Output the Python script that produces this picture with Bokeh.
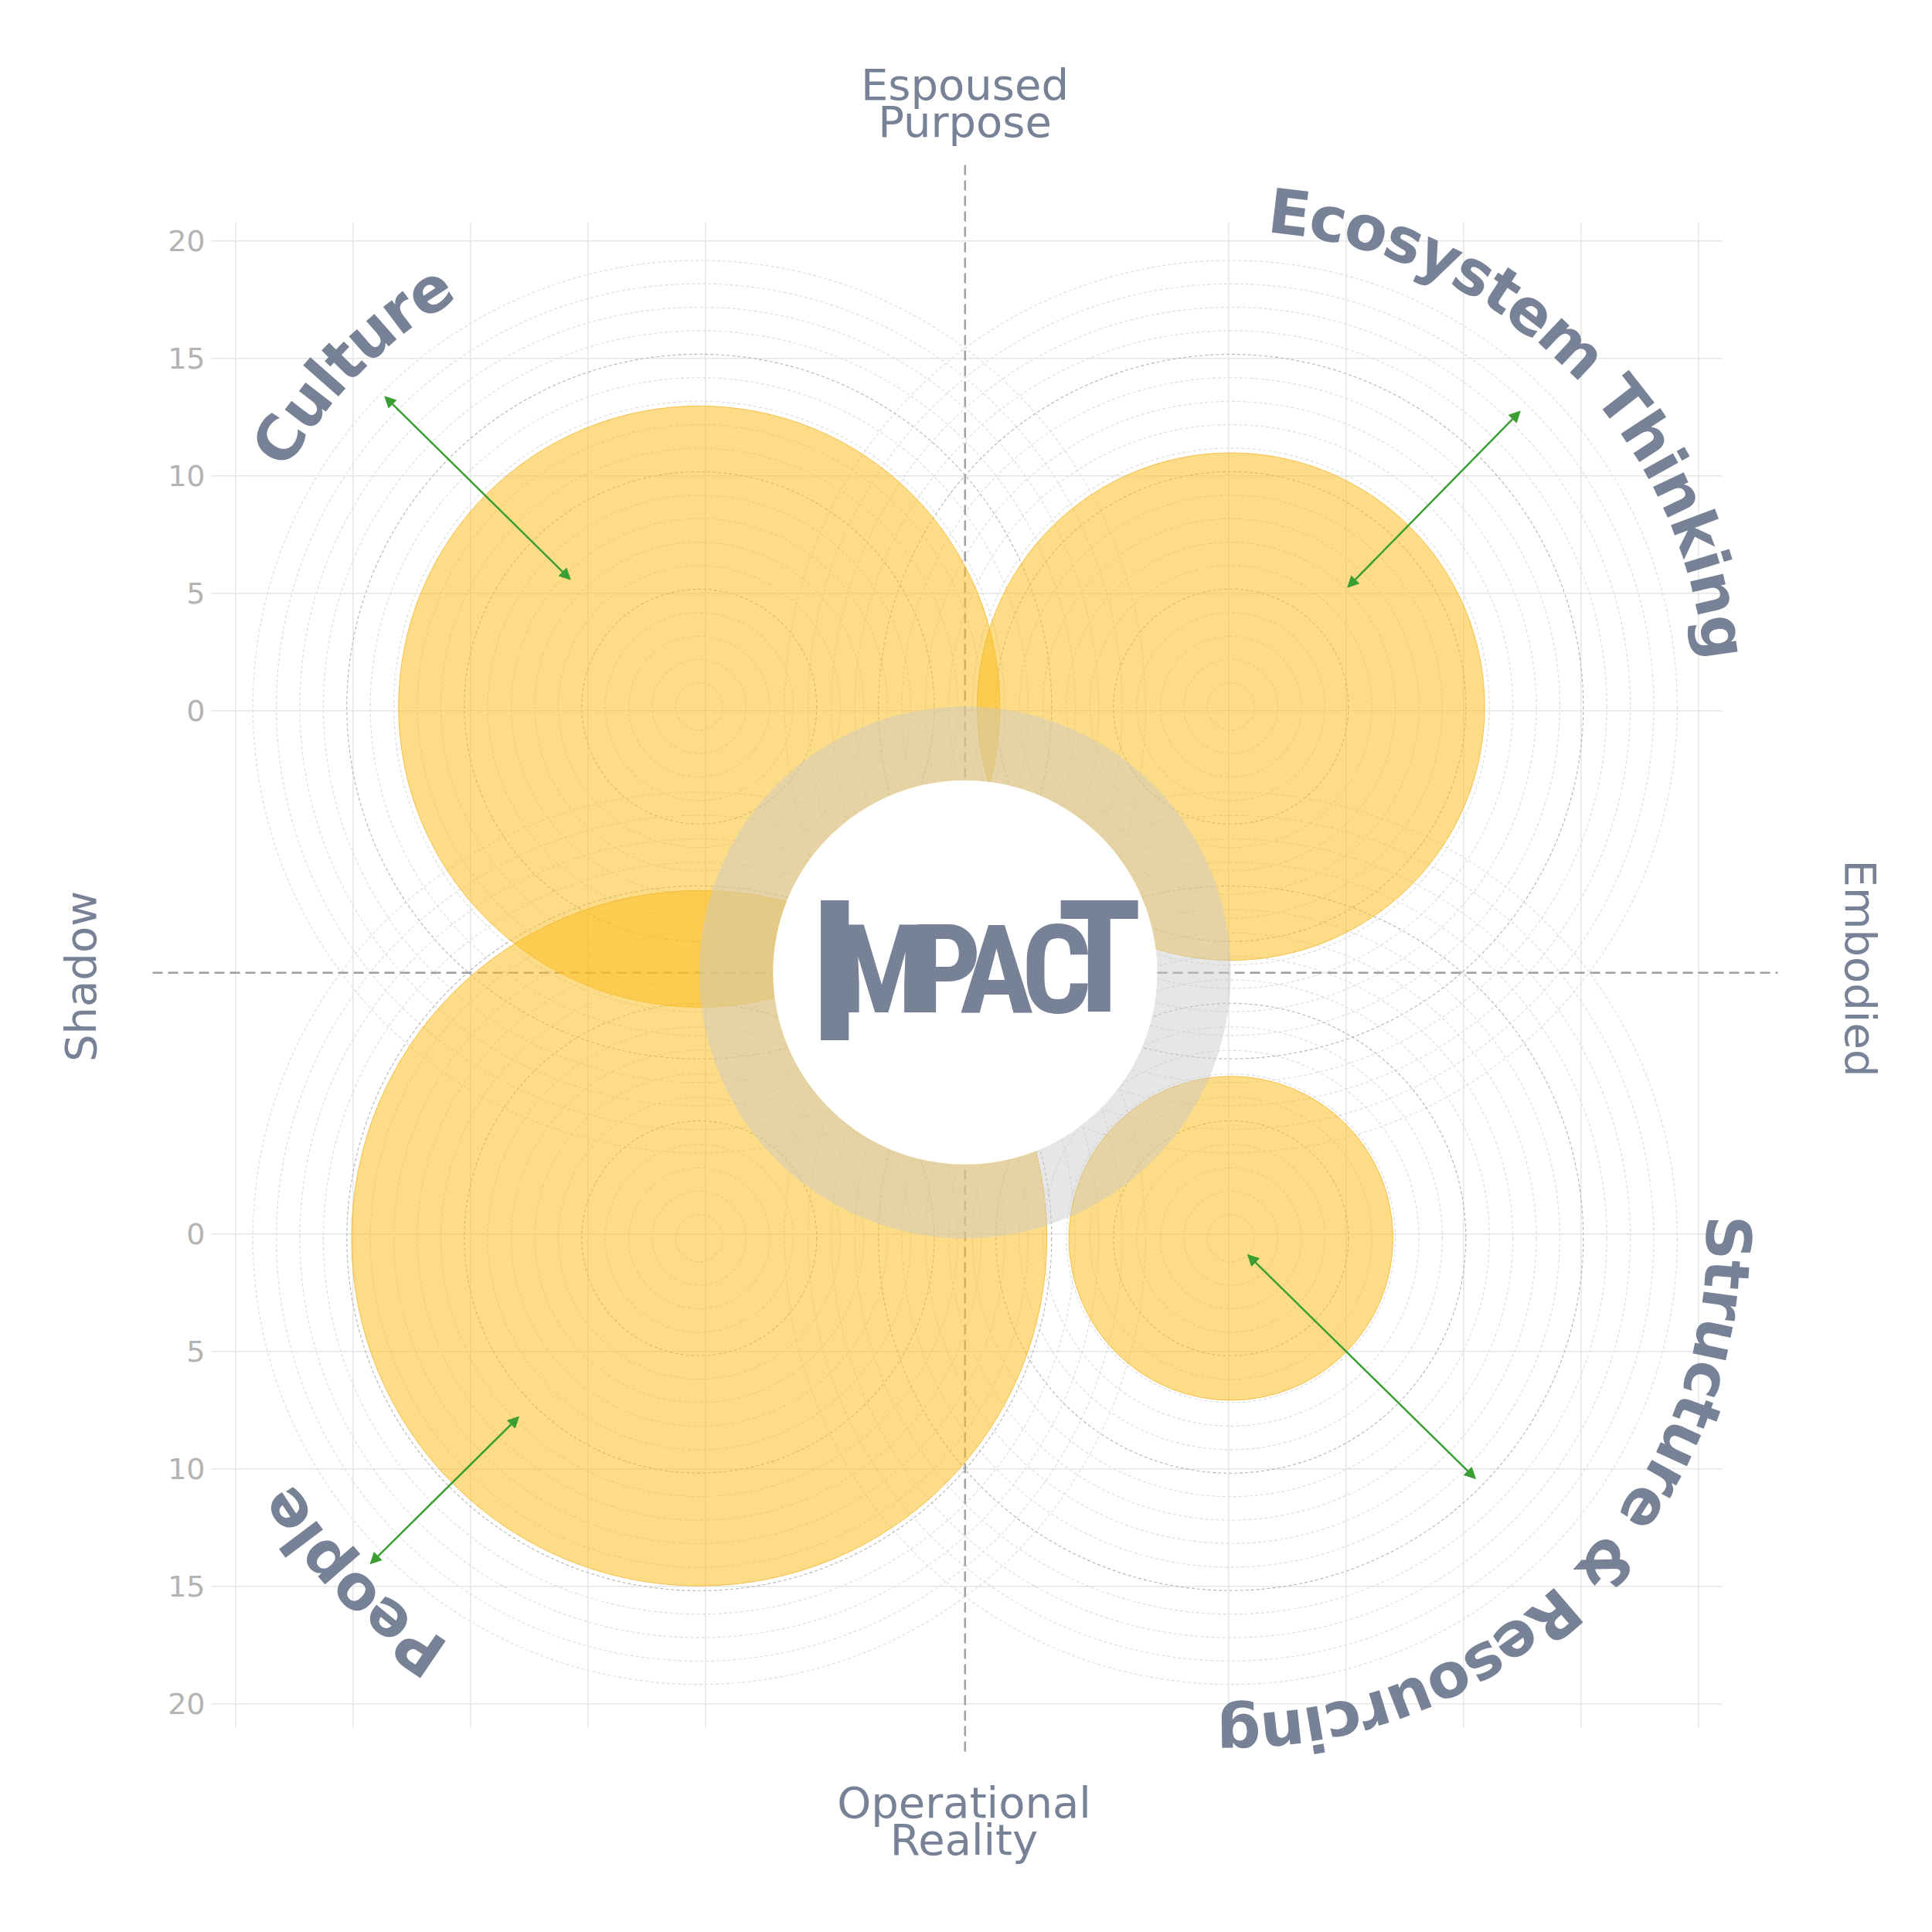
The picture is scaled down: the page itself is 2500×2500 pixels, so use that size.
import math
from bokeh.plotting import figure
from bokeh.models import Range1d, Arrow, NormalHead, ColumnDataSource
from bokeh.embed import file_html
from bokeh.resources import INLINE
from bokeh.core.properties import value

# ---------------- data ----------------
categories = ["Culture", "Ecosystem Thinking", "Structure & Resourcing", "People"]
scores = [12.8, 10.8, 6.9, 14.8]          # radius of each filled circle
range_low = [7.7, 7.1, 1.0, 10.8]         # inner end of each arrow
range_high = [18.8, 17.6, 14.6, 19.7]     # outer end of each arrow
tick_values = [0, 5, 10, 15, 20]
tick_labels = ["0", "5", "10", "15", "20"]
ring_levels = list(range(1, 20))
top_label = ["Espoused", "Purpose"]
bottom_label = ["Operational", "Reality"]
left_label = "Shadow"
right_label = "Embodied"
logo_letters = ["I", "M", "P", "A", "C", "T"]

# ---------------- layout / style ----------------
SLATE = "#778297"
GREEN = "#3a9f33"
GOLD = "#FBBF24"
W = H = 2484
PX = 30.4                      # pixels per data unit
CXr, CYr = 1248.3, 1257.8      # centre of the chart in pixels
QOFF = 344.0 / PX              # offset of each quadrant centre
GOFF = 338.5 / PX              # offset of each quadrant's grid origin
GX0 = 2.5 / PX                 # small horizontal shift of the grid
quad_sign = [(-1, 1), (1, 1), (1, -1), (-1, -1)]
quad_angle = [135.4, 45.6, -44.5, 224.7]
LABEL_R = 643 / PX


def X(px):
    return (px - CXr) / PX


def Y(py):
    return (CYr - py) / PX


p = figure(width=W, height=H,
           x_range=Range1d(-CXr / PX, (W - CXr) / PX),
           y_range=Range1d(-(H - CYr) / PX, CYr / PX),
           output_backend="svg", toolbar_location=None, min_border=0,
           x_axis_type=None, y_axis_type=None, outline_line_color=None,
           background_fill_color="white", border_fill_color="white")

# grid lines
gpos = [GOFF + v for v in tick_values]
vx = [GX0 - g for g in gpos] + [GX0 + g for g in gpos]
p.segment(x0=vx, y0=[Y(2235)] * len(vx), x1=vx, y1=[Y(287)] * len(vx),
          line_color="#e6e6e6", line_width=1.5)
hy = gpos + [-g for g in gpos]
p.segment(x0=[X(273)] * len(hy), y0=hy, x1=[X(2228)] * len(hy), y1=hy,
          line_color="#e6e6e6", line_width=1.5)

# concentric dashed circles around each quadrant centre
qx = [s[0] * QOFF for s in quad_sign]
qy = [s[1] * QOFF for s in quad_sign]
minor = [r for r in ring_levels if r % 5]
major = [r for r in ring_levels if r % 5 == 0]
for cx, cy in zip(qx, qy):
    p.circle(x=[cx] * len(minor), y=[cy] * len(minor), radius=minor,
             fill_color=None, line_color="#dcdcdc", line_width=1.1, line_dash="4 3")
    p.circle(x=[cx] * len(major), y=[cy] * len(major), radius=major,
             fill_color=None, line_color="#b4b4b4", line_width=1.1, line_dash="4 3")

# centre dashed axes
p.segment(x0=[X(197)], y0=[Y(1258.3)], x1=[X(2300)], y1=[Y(1258.3)],
          line_color="#a0a0a0", line_width=2.5, line_dash="13 7")
p.segment(x0=[0], y0=[Y(213)], x1=[0], y1=[Y(2273)],
          line_color="#a0a0a0", line_width=2.5, line_dash="13 7")

# score circles
p.circle(x=qx, y=qy, radius=scores, fill_color=GOLD, fill_alpha=0.55,
         line_color="#F2B52C", line_alpha=0.8, line_width=1)

# central ring and disc
p.annulus(x=[0], y=[0], inner_radius=248.5 / PX, outer_radius=QOFF,
          fill_color="#c8c8c8", fill_alpha=0.46, line_color=None)
p.circle(x=[0], y=[0], radius=248.5 / PX, fill_color="white", line_color=None)

# logo
logo_x = [1079.7, 1140.5, 1224, 1289, 1366.5, 1422]
logo_mid = [1258, 1255, 1255, 1255, 1255, 1239]
logo_fs = [255, 160, 160, 160, 160, 203]
LOGO_FONT = value("Roboto Condensed")
for ch, lx, lm, fs in zip(logo_letters, logo_x, logo_mid, logo_fs):
    p.text(x=[X(lx)], y=[Y(lm)], text=[ch], text_align="center",
           text_baseline="middle", text_font=LOGO_FONT,
           text_font_style="bold", text_font_size=f"{fs}px", text_color=SLATE)

# arrows
ax0, ay0, ax1, ay1 = [], [], [], []
for cx, cy, ang, lo, hi in zip(qx, qy, quad_angle, range_low, range_high):
    t = math.radians(ang)
    ax0.append(cx + lo * math.cos(t)); ay0.append(cy + lo * math.sin(t))
    ax1.append(cx + hi * math.cos(t)); ay1.append(cy + hi * math.sin(t))
asrc = ColumnDataSource(dict(x0=ax0, y0=ay0, x1=ax1, y1=ay1))
p.add_layout(Arrow(start=NormalHead(size=14, fill_color=GREEN, line_color=GREEN, line_width=1),
                   end=NormalHead(size=14, fill_color=GREEN, line_color=GREEN, line_width=1),
                   x_start="x0", y_start="y0", x_end="x1", y_end="y1", source=asrc,
                   line_color=GREEN, line_width=2.5))

# curved category labels
CHAR_W = {" ": 0.348, "&": 0.872, "C": 0.733, "E": 0.683, "P": 0.733, "R": 0.770,
          "S": 0.720, "T": 0.682, "a": 0.675, "c": 0.593, "e": 0.678, "g": 0.716,
          "h": 0.712, "i": 0.343, "k": 0.665, "l": 0.343, "m": 1.042, "n": 0.712,
          "o": 0.687, "p": 0.716, "r": 0.493, "s": 0.595, "t": 0.478, "u": 0.712,
          "y": 0.652}
LABEL_FS = 80
cxs, cys, cts, cas = [], [], [], []
for label, cx, cy, ang in zip(categories, qx, qy, quad_angle):
    em = LABEL_FS / PX
    widths = [CHAR_W.get(ch, 0.65) * em for ch in label]
    L = sum(widths)
    s = 0.0
    for ch, w in zip(label, widths):
        mid = s + w / 2
        th = math.radians(ang) + (L / 2 - mid) / LABEL_R
        s += w
        if ch == " ":
            continue
        cxs.append(cx + LABEL_R * math.cos(th))
        cys.append(cy + LABEL_R * math.sin(th))
        cts.append(ch)
        cas.append(th - math.pi / 2)
p.text(x=cxs, y=cys, text=cts, angle=cas, text_align="center", text_baseline="middle",
       text_font=value("DejaVu Sans"), text_font_style="bold",
       text_font_size=f"{LABEL_FS}px", text_color=SLATE)

# tick labels
ty = [GOFF + v for v in tick_values] + [-(GOFF + v) for v in tick_values]
tt = tick_labels + tick_labels
p.text(x=[X(265)] * len(ty), y=ty, text=tt, text_align="right", text_baseline="middle",
       text_font=value("DejaVu Sans"), text_font_size="38px", text_color="#b3b3b3")

# direction labels
lab_font = value("DejaVu Sans")
LAB_FS = "56px"
p.text(x=[X(1248)] * 2, y=[Y(109.2), Y(156.5)], text=top_label, text_align="center",
       text_baseline="middle", text_font=lab_font, text_font_size=LAB_FS, text_color=SLATE)
p.text(x=[X(1247)] * 2, y=[Y(2331.7), Y(2379.5)], text=bottom_label, text_align="center",
       text_baseline="middle", text_font=lab_font, text_font_size=LAB_FS, text_color=SLATE)
p.text(x=[X(104)], y=[Y(1263)], text=[left_label], angle=[math.pi / 2], text_align="center",
       text_baseline="middle", text_font=lab_font, text_font_size=LAB_FS, text_color=SLATE)
p.text(x=[X(2407)], y=[Y(1252.5)], text=[right_label], angle=[-math.pi / 2], text_align="center",
       text_baseline="middle", text_font=lab_font, text_font_size=LAB_FS, text_color=SLATE)

open("out.html", "w").write(file_html(p, INLINE))
